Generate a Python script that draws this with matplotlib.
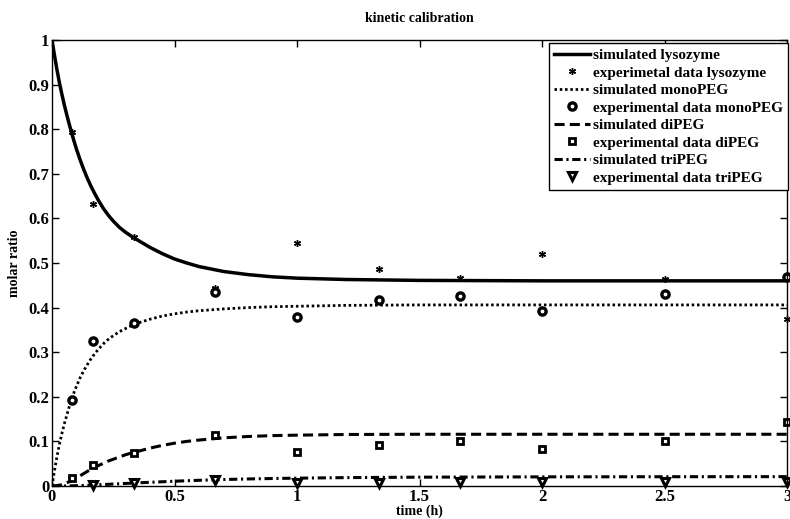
import numpy as np
import matplotlib
matplotlib.use("Agg")
import matplotlib.pyplot as plt

plt.rcParams['font.family'] = ['Liberation Serif', 'DejaVu Serif']
plt.rcParams['font.weight'] = 'bold'

# simulated curves (time in h)
t_sim = [0, 0.01, 0.02, 0.03, 0.04, 0.05, 0.06, 0.07, 0.08, 0.09, 0.10, 0.115, 0.13,
         0.145, 0.16, 0.175, 0.19, 0.21, 0.23, 0.25, 0.275, 0.30, 0.33, 0.36, 0.40,
         0.45, 0.50, 0.55, 0.60, 0.70, 0.80, 0.90, 1.0, 1.2, 1.5, 2.0, 2.5, 3.0]
sim_lysozyme = [1.000, 0.966, 0.934, 0.905, 0.879, 0.855, 0.833, 0.812, 0.792, 0.773,
                0.755, 0.731, 0.709, 0.689, 0.671, 0.655, 0.640, 0.622, 0.607, 0.594,
                0.580, 0.569, 0.558, 0.548, 0.535, 0.521, 0.509, 0.500, 0.492, 0.481,
                0.474, 0.469, 0.466, 0.463, 0.461, 0.460, 0.460, 0.460]
sim_mono = [0.0, 0.034, 0.065, 0.093, 0.117, 0.139, 0.158, 0.177, 0.194, 0.210,
            0.224, 0.243, 0.259, 0.273, 0.286, 0.297, 0.307, 0.319, 0.329, 0.337,
            0.346, 0.353, 0.361, 0.367, 0.374, 0.381, 0.386, 0.390, 0.393, 0.397,
            0.400, 0.402, 0.403, 0.405, 0.406, 0.406, 0.406, 0.406]
sim_di = [0.0, 0.0002, 0.0008, 0.0018, 0.003, 0.005, 0.007, 0.0095, 0.012, 0.015,
          0.018, 0.023, 0.028, 0.033, 0.038, 0.042, 0.046, 0.051, 0.056, 0.060,
          0.065, 0.070, 0.075, 0.079, 0.085, 0.091, 0.096, 0.100, 0.103, 0.108,
          0.111, 0.113, 0.114, 0.1155, 0.116, 0.116, 0.116, 0.116]
sim_tri = [0.0, 0.0, 0.0, 0.0, 0.0001, 0.0001, 0.0002, 0.0003, 0.0004, 0.0005,
           0.0007, 0.001, 0.0013, 0.0016, 0.002, 0.0024, 0.0028, 0.0033, 0.0038, 0.0044,
           0.005, 0.0057, 0.0065, 0.0073, 0.0083, 0.0095, 0.0107, 0.0118, 0.0128, 0.0145,
           0.0158, 0.0168, 0.0176, 0.0188, 0.0198, 0.0205, 0.0208, 0.021]

# experimental samples (minutes -> h)
t_exp = [5/60, 10/60, 20/60, 40/60, 1.0, 80/60, 100/60, 2.0, 2.5, 3.0]
exp_lysozyme = [0.794, 0.632, 0.559, 0.445, 0.544, 0.487, 0.466, 0.52, 0.464, 0.374]
exp_mono = [0.193, 0.324, 0.365, 0.434, 0.378, 0.416, 0.427, 0.393, 0.430, 0.469]
exp_di = [0.017, 0.047, 0.073, 0.115, 0.077, 0.092, 0.101, 0.084, 0.101, 0.144]
t_tri = t_exp[1:]
exp_tri = [0.002, 0.006, 0.013, 0.0075, 0.0075, 0.0085, 0.0085, 0.0085, 0.0085]

fig = plt.figure(figsize=(7.9, 5.19), dpi=100)
ax = fig.add_axes([52/790, 33/519, 735/790, 446/519])

ax.plot(t_sim, sim_lysozyme, color='k', lw=2.5, label='simulated lysozyme')
ax.plot(t_exp, exp_lysozyme, ls='none', marker=(6, 2, 0), ms=5, mew=1, color='k',
        clip_on=False, label='experimetal data lysozyme')
ax.plot(t_sim, sim_mono, color='k', lw=2.0, ls=(0, (0.9, 1.0)), label='simulated monoPEG')
ax.plot(t_exp, exp_mono, ls='none', marker='o', ms=5.2, mew=2.4, mfc='white', mec='k',
        clip_on=False, label='experimental data monoPEG')
ax.plot(t_sim, sim_di, color='k', lw=2.2, ls=(0, (3.3, 1.7)), label='simulated diPEG')
ax.plot(t_exp, exp_di, ls='none', marker='s', ms=4.8, mew=2.0, mfc='white', mec='k',
        clip_on=False, label='experimental data diPEG')
ax.plot(t_sim, sim_tri, color='k', lw=2.2, ls=(0, (2.7, 1.2, 0.7, 1.2)),
        label='simulated triPEG')
ax.plot(t_tri, exp_tri, ls='none', marker='v', ms=6, mew=2.2, mfc='white', mec='k',
        clip_on=False, label='experimental data triPEG')

ax.set_xlim(0, 3)
ax.set_ylim(0, 1)
ax.set_xticks(np.arange(0, 3.01, 0.5))
ax.set_xticklabels(['0', '0.5', '1', '1.5', '2', '2.5', '3'])
ax.set_yticks(np.arange(0, 1.01, 0.1))
ax.set_yticklabels(['0', '0.1', '0.2', '0.3', '0.4', '0.5', '0.6', '0.7', '0.8', '0.9', '1'])
ax.tick_params(direction='in', length=5, width=1, top=True, right=True,
               labelsize=12, pad=2)
for s in ax.spines.values():
    s.set_linewidth(1)

ax.set_title('kinetic calibration', fontsize=10, fontweight='bold', pad=13)
ax.set_xlabel('time (h)', fontsize=10, fontweight='bold', labelpad=0)
ax.set_ylabel('molar ratio', fontsize=10, fontweight='bold', labelpad=5)

leg = ax.legend(loc='upper right', bbox_to_anchor=(1.0014, 0.9933), borderaxespad=0,
                fancybox=False, edgecolor='k', framealpha=1, fontsize=11,
                handlelength=2.35, handletextpad=0.15, labelspacing=0.25,
                borderpad=0.35, numpoints=1)
leg.get_frame().set_linewidth(1)

fig.savefig('out.png', dpi=100)
